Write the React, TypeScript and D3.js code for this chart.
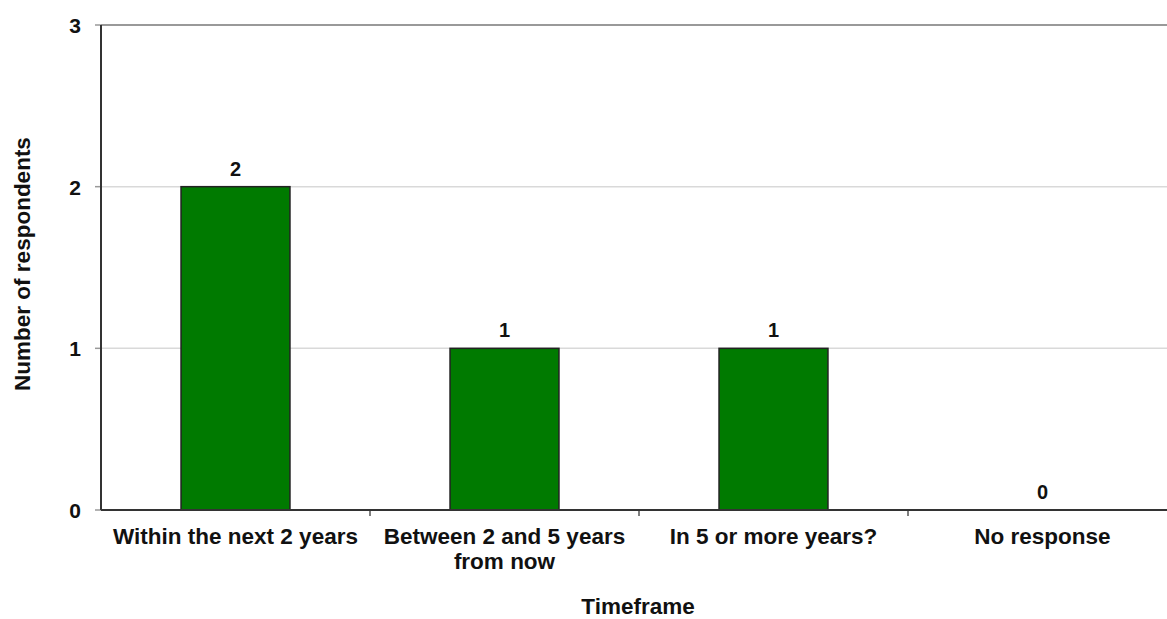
import React from "react";
import * as d3 from "d3";

const categories = ["Within the next 2 years", "Between 2 and 5 years\nfrom now", "In 5 or more years?", "No response"];
const values = [2, 1, 1, 0];
const yTicks = [0, 1, 2, 3];

export default function App() {
  const W = 1167, H = 619;
  const m = { left: 101, right: 1177, top: 25, bottom: 510 };
  const x = d3.scaleBand<string>().domain(categories).range([m.left, m.right]).paddingInner(0).paddingOuter(0);
  const y = d3.scaleLinear().domain([0, 3]).range([m.bottom, m.top]);
  const bw = x.bandwidth() * 0.405;
  const font = "'Liberation Sans', Arial, sans-serif";
  return (
    <svg width={W} height={H} style={{ position: "absolute", left: 0, top: 0 }} fontFamily={font}>
      <rect width={W} height={H} fill="#fff" />
      {yTicks.filter(t => t > 0).map(t => (
        <line key={t} x1={m.left} x2={W} y1={y(t)} y2={y(t)} stroke={t === 3 ? "#999" : "#d9d9d9"} strokeWidth={t === 3 ? 2 : 1.5} />
      ))}
      {categories.map((c, i) => {
        const cx = x(c)! + x.bandwidth() / 2;
        return (
          <g key={c}>
            {values[i] > 0 && (
              <rect x={cx - bw / 2} y={y(values[i])} width={bw} height={y(0) - y(values[i])} fill="#007a00" stroke="#222" strokeWidth={1.5} />
            )}
            <text x={cx} y={y(values[i]) - 11} textAnchor="middle" fontSize={20} fontWeight="bold" fill="#111">{values[i]}</text>
            {c.split("\n").map((ln, j) => (
              <text key={j} x={cx} y={544 + j * 25} textAnchor="middle" fontSize={22.5} fontWeight="bold" fill="#111">{ln}</text>
            ))}
          </g>
        );
      })}
      {categories.slice(1).map(c => (
        <line key={c} x1={x(c)} x2={x(c)} y1={m.bottom} y2={m.bottom + 6} stroke="#555" strokeWidth={1.5} />
      ))}
      {yTicks.map(t => (
        <g key={t}>
          <line x1={m.left - 6} x2={m.left} y1={y(t)} y2={y(t)} stroke="#999" strokeWidth={1.5} />
          <text x={81} y={y(t) + 8} textAnchor="end" fontSize={21} fontWeight="bold" fill="#111">{t}</text>
        </g>
      ))}
      <line x1={m.left} x2={m.left} y1={m.top} y2={m.bottom} stroke="#333" strokeWidth={2} />
      <line x1={m.left} x2={W} y1={m.bottom} y2={m.bottom} stroke="#333" strokeWidth={2} />
      <text x={638} y={614} textAnchor="middle" fontSize={22.5} fontWeight="bold" fill="#111">Timeframe</text>
      <text transform={`translate(30,${264}) rotate(-90)`} textAnchor="middle" fontSize={22.5} fontWeight="bold" fill="#111">Number of respondents</text>
    </svg>
  );
}
